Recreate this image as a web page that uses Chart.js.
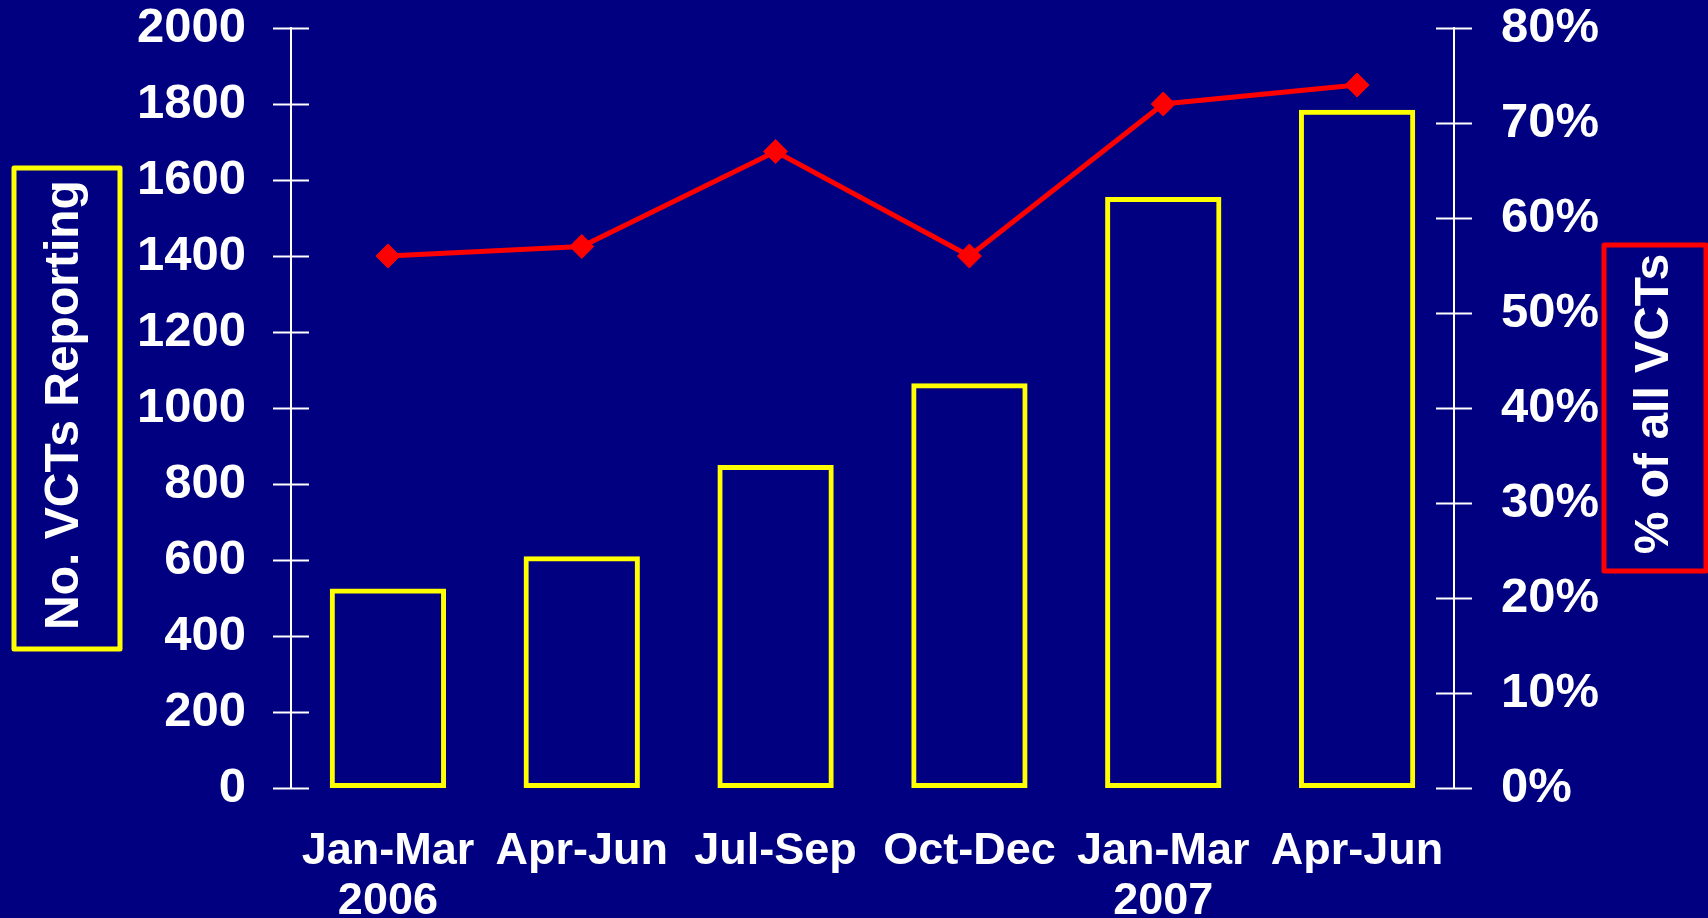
<!DOCTYPE html>
<html>
<head>
<meta charset="utf-8">
<script src="https://cdn.jsdelivr.net/npm/chart.js@4"></script>
<style>
  html, body { margin: 0; padding: 0; background: #000080; }
  #wrap { width: 1708px; height: 918px; }
</style>
</head>
<body>
<div id="wrap"><canvas id="chart" width="1708" height="918"></canvas></div>
<script>
// Chart data
const quarters = [['Jan-Mar', '2006'], 'Apr-Jun', 'Jul-Sep', 'Oct-Dec', ['Jan-Mar', '2007'], 'Apr-Jun'];
const vctsReporting = [525, 610, 850, 1065, 1555, 1785];
const pctOfAllVcts = [56, 57, 67, 56, 72, 74];
const leftTitle = 'No. VCTs Reporting';
const rightTitle = '% of all VCTs';

const FONT = '"Liberation Sans", Arial, sans-serif';

// draws the tick marks crossing each y axis, plus the boxed axis titles
const axisExtras = {
    id: 'axisExtras',
    afterDraw(chart) {
        const ctx = chart.ctx;
        const area = chart.chartArea;
        ctx.save();
        ctx.strokeStyle = '#ffffff';
        ctx.lineWidth = 2;
        ['y', 'y1'].forEach(function(id) {
            const scale = chart.scales[id];
            const x = id === 'y' ? area.left : area.right;
            scale.ticks.forEach(function(t, i) {
                const py = Math.round(scale.getPixelForTick(i)) + 0.5;
                ctx.beginPath();
                ctx.moveTo(x - 18, py);
                ctx.lineTo(x + 18, py);
                ctx.stroke();
            });
        });

        // title boxes
        ctx.lineJoin = 'round';
        ctx.lineWidth = 5;
        ctx.strokeStyle = '#ffff00';
        ctx.strokeRect(14, 168, 106, 481);
        ctx.strokeStyle = '#ff0000';
        ctx.strokeRect(1604, 245, 102, 326);

        // rotated titles
        ctx.fillStyle = '#ffffff';
        ctx.font = 'bold 48px ' + FONT;
        ctx.textAlign = 'center';
        ctx.textBaseline = 'alphabetic';
        ctx.translate(61, 405);
        ctx.rotate(-Math.PI / 2);
        ctx.fillText(leftTitle, 0, 17);
        ctx.setTransform(1, 0, 0, 1, 0, 0);
        ctx.translate(1651, 404);
        ctx.rotate(-Math.PI / 2);
        ctx.fillText(rightTitle, 0, 17);
        ctx.restore();
    }
};

const ctx = document.getElementById('chart').getContext('2d');
new Chart(ctx, {
    type: 'bar',
    data: {
        labels: quarters,
        datasets: [{
            type: 'line',
            data: pctOfAllVcts,
            yAxisID: 'y1',
            order: 1,
            borderColor: '#ff0000',
            backgroundColor: '#ff0000',
            borderWidth: 5,
            pointStyle: 'rectRot',
            pointRadius: 12,
            pointBorderWidth: 1,
            tension: 0
        }, {
            type: 'bar',
            data: vctsReporting,
            yAxisID: 'y',
            order: 2,
            backgroundColor: 'rgba(0,0,0,0)',
            borderColor: '#ffff00',
            borderWidth: 5,
            borderSkipped: false,
            barPercentage: 0.6,
            categoryPercentage: 1.0
        }]
    },
    options: {
        responsive: false,
        animation: false,
        layout: { padding: { top: 28, left: 0, right: 0, bottom: 0 } },
        plugins: { legend: { display: false }, tooltip: { enabled: false } },
        scales: {
            x: {
                grid: { display: false, drawTicks: false },
                border: { display: false },
                ticks: {
                    color: '#ffffff',
                    padding: 38,
                    maxRotation: 0,
                    autoSkip: false,
                    font: { family: FONT, size: 45, weight: 'bold', lineHeight: 1.12 }
                },
                afterFit(scale) { scale.height = 130; }
            },
            y: {
                position: 'left',
                min: 0,
                max: 2000,
                grid: { display: false, drawTicks: false },
                border: { display: true, color: '#ffffff', width: 2 },
                ticks: {
                    stepSize: 200,
                    color: '#ffffff',
                    padding: 45,
                    callback: function(v) { return String(v); },
                    font: { family: FONT, size: 49, weight: 'bold', lineHeight: 1 }
                },
                afterFit(scale) { scale.width = 291; scale.paddingTop = 0; }
            },
            y1: {
                position: 'right',
                min: 0,
                max: 80,
                grid: { display: false, drawTicks: false },
                border: { display: true, color: '#ffffff', width: 2 },
                ticks: {
                    stepSize: 10,
                    color: '#ffffff',
                    padding: 47,
                    callback: function(v) { return v + '%'; },
                    font: { family: FONT, size: 49, weight: 'bold', lineHeight: 1 }
                },
                afterFit(scale) { scale.width = 254; scale.paddingTop = 0; }
            }
        }
    },
    plugins: [axisExtras]
});
</script>
</body>
</html>
